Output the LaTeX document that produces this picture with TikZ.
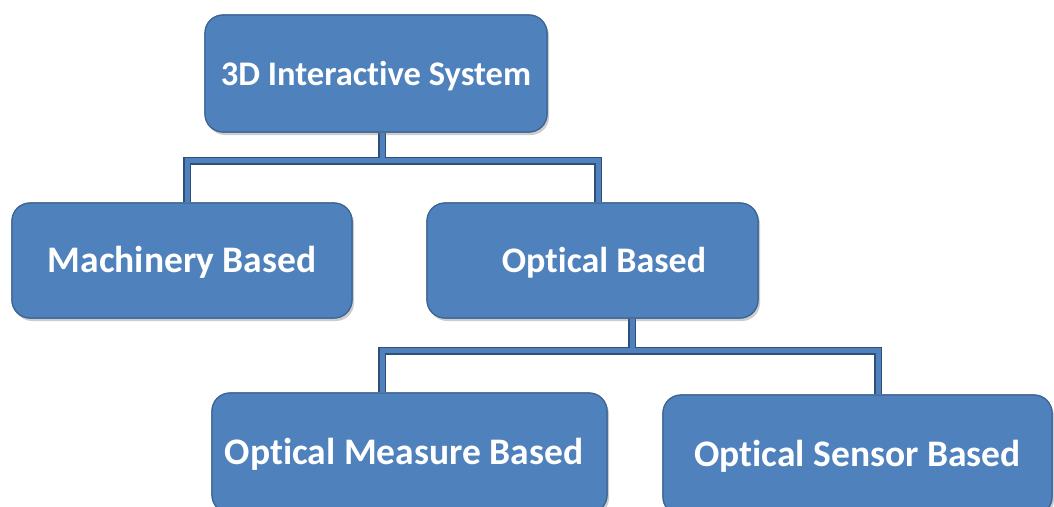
\documentclass[tikz,border=0pt]{standalone}
\usepackage{fontspec}
\setmainfont{Carlito}[Ligatures=NoCommon]
\usetikzlibrary{shadows,calc}
\definecolor{boxblue}{HTML}{4F81BD}
\definecolor{boxedge}{HTML}{3C6494}
\definecolor{lineedge}{HTML}{2E4F7A}
\begin{document}
\begin{tikzpicture}[x=1pt,y=-1pt,
  box/.style={draw=boxedge, line width=1.2pt, fill=boxblue, rounded corners=18pt,
    text=white, font=\bfseries\fontsize{#1}{40}\selectfont,
    text height=23pt, text depth=0pt, inner sep=0pt,
    drop shadow={opacity=0.22, shadow xshift=2pt, shadow yshift=-3pt}},
  box/.default=36,
  conn/.style={line width=#1},
]
\useasboundingbox (0,0) rectangle (1054,506);
\clip (0,0) rectangle (1054,506);

% box centres
\path (376,73.5) coordinate (ptop);
\path (182,260.5) coordinate (pmach);
\path (592.5,260.5) coordinate (popt);
\path (409.5,453) coordinate (pmeas);
\path (857.5,455) coordinate (psens);

% boxes (first pass, to define anchors)
\node[box=34.5, minimum width=342pt, minimum height=117pt] (top) at (ptop) {3D Interactive System};
\node[box=37.5, minimum width=340pt, minimum height=115pt] (mach) at (pmach) {Machinery Based};
\node[box=36, minimum width=331pt, minimum height=115pt] (opt) at (popt) {\hspace*{23pt}Optical Based};
\node[box=37.5, minimum width=395pt, minimum height=120pt] (meas) at (pmeas) {Optical Measure Based\hspace*{11pt}};
\node[box=37.5, minimum width=389pt, minimum height=120pt] (sens) at (psens) {Optical Sensor Based};

\coordinate (j1) at ($(top.south)+(6,28)$);
\coordinate (j2) at ($(opt.south)+(39.5,32)$);

% connectors: dark outline first, then blue core
\foreach \w/\c in {8pt/lineedge,5pt/boxblue}{
  \draw[conn=\w, draw=\c] ([xshift=6pt]top.south) -- (j1);
  \draw[conn=\w, draw=\c] ([xshift=5pt]mach.north) |- (j1) -| ([xshift=5.5pt]opt.north);
  \draw[conn=\w, draw=\c] ([xshift=39.5pt]opt.south) -- (j2);
  \draw[conn=\w, draw=\c] ([xshift=-27.5pt]meas.north) |- (j2) -| ([xshift=20.5pt]sens.north);
}

% boxes again, above the connector ends
\node[box=34.5, minimum width=342pt, minimum height=117pt] at (ptop) {3D Interactive System};
\node[box=37.5, minimum width=340pt, minimum height=115pt] at (pmach) {Machinery Based};
\node[box=36, minimum width=331pt, minimum height=115pt] at (popt) {\hspace*{23pt}Optical Based};
\node[box=37.5, minimum width=395pt, minimum height=120pt] at (pmeas) {Optical Measure Based\hspace*{11pt}};
\node[box=37.5, minimum width=389pt, minimum height=120pt] at (psens) {Optical Sensor Based};
\end{tikzpicture}
\end{document}
